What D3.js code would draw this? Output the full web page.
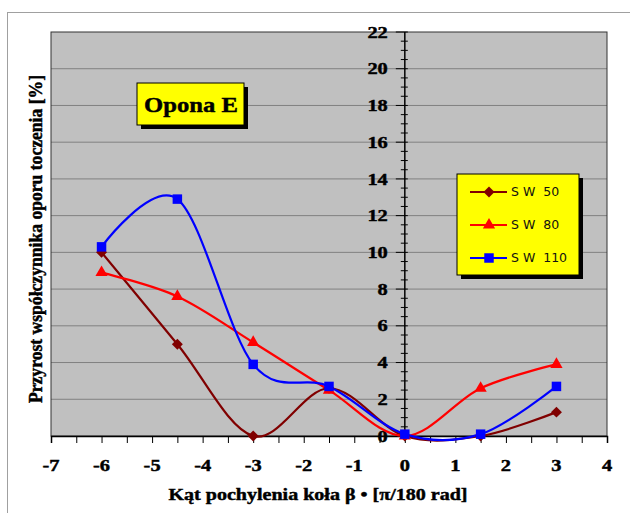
<!DOCTYPE html>
<html>
<head>
<meta charset="utf-8">
<script src="https://cdn.jsdelivr.net/npm/d3@7"></script>
<style>
  body { margin: 0; background: #fff; }
  svg { display: block; }
  .serif { font-family: "Liberation Serif", "Times New Roman", serif; font-weight: bold; fill: #000; stroke: #000; stroke-width: 0.45px; }
</style>
</head>
<body>
<div id="chart"></div>
<script>
// Data
const angles = [-6, -4.5, -3, -1.5, 0, 1.5, 3];
const sw50 = [10, 5, 0, 2.6, 0, 0, 1.3];
const sw80 = [8.9, 7.6, 5.1, 2.5, 0, 2.6, 3.9];
const sw110 = [10.3, 12.9, 3.9, 2.7, 0.1, 0.1, 2.7];
const seriesNames = ["S W  50", "S W  80", "S W  110"];
const xTicks = [-7, -6, -5, -4, -3, -2, -1, 0, 1, 2, 3, 4];
const yTicks = [0, 2, 4, 6, 8, 10, 12, 14, 16, 18, 20, 22];

const W = 630, H = 513;
const margin = { top: 32, right: 23, bottom: 77, left: 51 },
      width = W - margin.left - margin.right,
      height = H - margin.top - margin.bottom;

const x = d3.scaleLinear().domain([-7, 4]).range([0, width]);
const y = d3.scaleLinear().domain([0, 22]).range([height, 0]);

const svg = d3.select("#chart").append("svg")
    .attr("width", W)
    .attr("height", H);

// Outer chart frame
svg.append("rect")
    .attr("x", 7.5).attr("y", 12.5)
    .attr("width", W).attr("height", H)
    .attr("fill", "#fff")
    .attr("stroke", "#a0a0a0");

const g = svg.append("g")
    .attr("transform", `translate(${margin.left},${margin.top})`);

// Plot area
g.append("rect")
    .attr("width", width).attr("height", height)
    .attr("fill", "#c0c0c0");

// Gridlines
g.selectAll(".grid")
  .data(yTicks.filter(d => d > 0 && d < 22))
  .enter().append("line")
    .attr("x1", 0).attr("x2", width)
    .attr("y1", d => y(d)).attr("y2", d => y(d))
    .attr("stroke", "#808080")
    .attr("stroke-width", 1);

g.append("rect")
    .attr("width", width).attr("height", height)
    .attr("fill", "none")
    .attr("stroke", "#333")
    .attr("stroke-width", 1);

// X axis with half-unit ticks
const xAxis = g.append("g")
    .attr("transform", `translate(0,${height})`)
    .call(d3.axisBottom(x).tickValues(d3.range(-7, 4.01, 0.5)).tickSize(7).tickFormat(""));
xAxis.select(".domain").attr("stroke", "#000").attr("stroke-width", 1.5);
xAxis.selectAll(".tick line").attr("stroke", "#000");

// tick labels are a little wider than plain Times, so stretch them
g.append("g")
    .attr("transform", `translate(0,${height})`)
    .selectAll("text")
    .data(xTicks)
    .enter().append("text")
    .attr("class", "serif")
    .attr("transform", d => `translate(${x(d)},35) scale(1.2,1)`)
    .attr("text-anchor", "middle")
    .style("font-size", "17px")
    .text(d => d < 0 ? "-" + Math.abs(d) : d);

// Y axis at x = 0 with minor ticks crossing the axis
const yAxisG = g.append("g")
    .attr("transform", `translate(${x(0)},0)`);
yAxisG.append("line")
    .attr("y1", 0).attr("y2", height)
    .attr("stroke", "#000").attr("stroke-width", 1.5);
yAxisG.selectAll(".minor")
  .data(d3.range(0, 22.01, 0.5))
  .enter().append("line")
    .attr("x1", d => d % 2 === 0 ? -9 : -4)
    .attr("x2", 3)
    .attr("y1", d => y(d)).attr("y2", d => y(d))
    .attr("stroke", "#000");
yAxisG.selectAll(".ylab")
  .data(yTicks)
  .enter().append("text")
    .attr("class", "serif")
    .attr("transform", d => `translate(-17,${y(d)}) scale(1.2,1)`)
    .attr("dy", "0.33em")
    .attr("text-anchor", "end")
    .style("font-size", "17px")
    .text(d => d);

// Axis titles
svg.append("text")
    .attr("class", "serif")
    .attr("x", 318)
    .attr("y", 500)
    .attr("text-anchor", "middle")
    .attr("textLength", 299)
    .attr("lengthAdjust", "spacingAndGlyphs")
    .style("font-size", "17px")
    .text("Kąt pochylenia koła β • [π/180 rad]");

svg.append("text")
    .attr("class", "serif")
    .attr("transform", "translate(42,239) rotate(-90)")
    .attr("text-anchor", "middle")
    .attr("textLength", 328)
    .attr("lengthAdjust", "spacingAndGlyphs")
    .style("font-size", "18px")
    .text("Przyrost współczynnika oporu toczenia [%]");

// Series
const diamond = { draw(ctx, size) { const r = Math.sqrt(size / 2); ctx.moveTo(0, -r); ctx.lineTo(r, 0); ctx.lineTo(0, r); ctx.lineTo(-r, 0); ctx.closePath(); } };
const series = [
  { name: seriesNames[0], values: sw50, color: "#800000", symbol: diamond, size: 60 },
  { name: seriesNames[1], values: sw80, color: "#ff0000", symbol: d3.symbolTriangle, size: 65 },
  { name: seriesNames[2], values: sw110, color: "#0000ff", symbol: d3.symbolSquare, size: 90 }
];

const line = d3.line()
    .x(d => x(d[0]))
    .y(d => y(d[1]))
    .curve(d3.curveCatmullRom.alpha(0));

const plot = g.append("g");
series.forEach(s => {
  const pts = angles.map((a, i) => [a, s.values[i]]);
  plot.append("path")
      .datum(pts)
      .attr("fill", "none")
      .attr("stroke", s.color)
      .attr("stroke-width", 2.2)
      .attr("d", line);
});
series.forEach(s => {
  const pts = angles.map((a, i) => [a, s.values[i]]);
  plot.selectAll(null)
    .data(pts)
    .enter().append("path")
      .attr("transform", d => `translate(${x(d[0])},${y(d[1])})`)
      .attr("d", d3.symbol().type(s.symbol).size(s.size))
      .attr("fill", s.color);
});

// Title box
const tb = svg.append("g").attr("transform", "translate(137,83)");
tb.append("rect").attr("x", 4).attr("y", 4).attr("width", 107).attr("height", 42).attr("fill", "#000");
tb.append("rect").attr("width", 107).attr("height", 42).attr("fill", "#ffff00").attr("stroke", "#000");
tb.append("text")
    .attr("class", "serif")
    .attr("transform", "translate(54,29) scale(1.12,1)")
    .attr("text-anchor", "middle")
    .style("font-size", "22px")
    .text("Opona E");

// Legend
const lg = svg.append("g").attr("transform", "translate(457,174)");
lg.append("rect").attr("x", 4).attr("y", 4).attr("width", 122).attr("height", 101).attr("fill", "#000");
lg.append("rect").attr("width", 122).attr("height", 101).attr("fill", "#ffff00").attr("stroke", "#000");
series.forEach((s, i) => {
  const row = lg.append("g").attr("transform", `translate(0,${18 + i * 33})`);
  row.append("line").attr("x1", 13).attr("x2", 50).attr("stroke", s.color).attr("stroke-width", 2);
  row.append("path").attr("transform", "translate(32,0)")
      .attr("d", d3.symbol().type(s.symbol).size(s.size)).attr("fill", s.color);
  row.append("text")
      .attr("x", 54).attr("dy", "0.35em")
      .style("font-family", "'DejaVu Sans', Verdana, sans-serif")
      .style("font-size", "12.5px")
      .style("fill", "#111")
      .style("white-space", "pre")
      .attr("xml:space", "preserve")
      .text(s.name);
});
</script>
</body>
</html>
